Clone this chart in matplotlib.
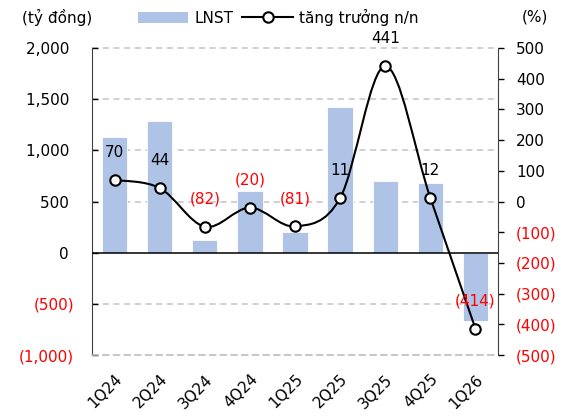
import matplotlib
matplotlib.use("Agg")
import matplotlib.pyplot as plt
from matplotlib.path import Path
from matplotlib.patches import PathPatch, Patch
from matplotlib.lines import Line2D
import numpy as np

categories = ["1Q24", "2Q24", "3Q24", "4Q24", "1Q25", "2Q25", "3Q25", "4Q25", "1Q26"]
lnst = [1127, 1283, 122, 603, 203, 1422, 700, 685, -668]
growth = [70, 44, -82, -20, -81, 11, 441, 12, -414]
left_ticks = [-1000, -500, 0, 500, 1000, 1500, 2000]
right_ticks = [-500, -400, -300, -200, -100, 0, 100, 200, 300, 400, 500]

plt.rcParams['font.family'] = ['DejaVu Sans']
FS = 11
BAR = '#aec3e6'
RED = '#ff0000'
GRID = '#c4c4c4'

def fmt(v):
    s = f"{abs(v):,.0f}"
    return f"({s})" if v < 0 else s

def fmt_left(v):
    s = f"{abs(v):,.0f}"
    return f"({s})" if v < 0 else s + "\u2008"

fig = plt.figure(figsize=(5.69, 4.16), dpi=100)
ax = fig.add_axes([0.1617, 0.1466, 0.8752 - 0.1617, 0.8846 - 0.1466])
ax2 = ax.twinx()

x = np.arange(len(categories))
ax.bar(x, lnst, width=0.56, color=BAR, edgecolor='white', linewidth=0.6, zorder=2)
ax.set_xlim(-0.5, len(categories) - 0.5)
ax.set_ylim(-1000, 2000)
ax.set_yticks(left_ticks)
ax.set_yticklabels([fmt_left(v) for v in left_ticks], fontsize=FS)
for t, v in zip(ax.get_yticklabels(), left_ticks):
    t.set_color(RED if v < 0 else 'black')
for v in left_ticks:
    if v != 0:
        ax.plot([-0.5, len(categories) - 0.5], [v, v], color=GRID, lw=1.1,
                ls=(0, (4, 3)), zorder=1, clip_on=False)
ax.axhline(0, color='black', lw=1.1, zorder=3)
ax.tick_params(axis='y', direction='in', length=4, width=1, pad=13)
ax.tick_params(axis='x', length=0, pad=12)
ax.set_xticks(x)
ax.set_xticklabels(categories, fontsize=FS, rotation=45, ha='right', rotation_mode='anchor')
for side in ['top', 'bottom', 'right']:
    ax.spines[side].set_visible(False)
ax.spines['left'].set_color('#404040')

ax2.set_ylim(-500, 500)
ax2.set_yticks(right_ticks)
ax2.set_yticklabels([fmt(v) for v in right_ticks], fontsize=FS)
for t, v in zip(ax2.get_yticklabels(), right_ticks):
    t.set_color(RED if v < 0 else 'black')
ax2.tick_params(axis='y', direction='out', length=4, width=1, pad=9)
for side in ['top', 'left']:
    ax2.spines[side].set_visible(False)
ax2.spines['right'].set_color('#404040')
ax2.spines['bottom'].set_visible(True)
ax2.spines['bottom'].set_color(GRID)
ax2.spines['bottom'].set_linewidth(1.1)
ax2.spines['bottom'].set_linestyle((0, (4, 3)))

# smoothed line (Catmull-Rom as cubic Bezier)
pts = np.column_stack([x, growth]).astype(float)
n = len(pts)
verts = [pts[0]]
codes = [Path.MOVETO]
for i in range(n - 1):
    p0 = pts[i - 1] if i > 0 else pts[i]
    p1 = pts[i]
    p2 = pts[i + 1]
    p3 = pts[i + 2] if i + 2 < n else pts[i + 1]
    c1 = p1 + (p2 - p0) / 6.0
    c2 = p2 - (p3 - p1) / 6.0
    verts += [c1, c2, p2]
    codes += [Path.CURVE4] * 3
ax2.add_patch(PathPatch(Path(verts, codes), fill=False, edgecolor='black', lw=1.5, zorder=4))
ax2.plot(x, growth, ls='none', marker='o', ms=7.5, mfc='white', mec='black', mew=1.5, zorder=5)

for xi, g in zip(x, growth):
    ax2.annotate(fmt(g), (xi, g), xytext=(0, 20), textcoords='offset points',
                 ha='center', va='center', fontsize=FS,
                 color=RED if g < 0 else 'black', zorder=6)

fig.text(22 / 569, 1 - 17 / 416, "(tỷ đồng)", fontsize=FS, ha='left', va='center')
fig.text(548 / 569, 1 - 17 / 416, "(%)", fontsize=FS, ha='right', va='center')

handles = [Patch(facecolor=BAR, edgecolor='none'),
           Line2D([0], [0], color='black', lw=1.5, marker='o', ms=7.5, mfc='white', mec='black', mew=1.5)]
fig.legend(handles, ["LNST", "tăng trưởng n/n"], loc='center', bbox_to_anchor=(278 / 569, 1 - 17 / 416),
           ncol=2, frameon=False, fontsize=FS, handlelength=3.3, handleheight=0.7,
           handletextpad=0.4, columnspacing=0.6, borderpad=0)

fig.savefig("out.png", dpi=100)
